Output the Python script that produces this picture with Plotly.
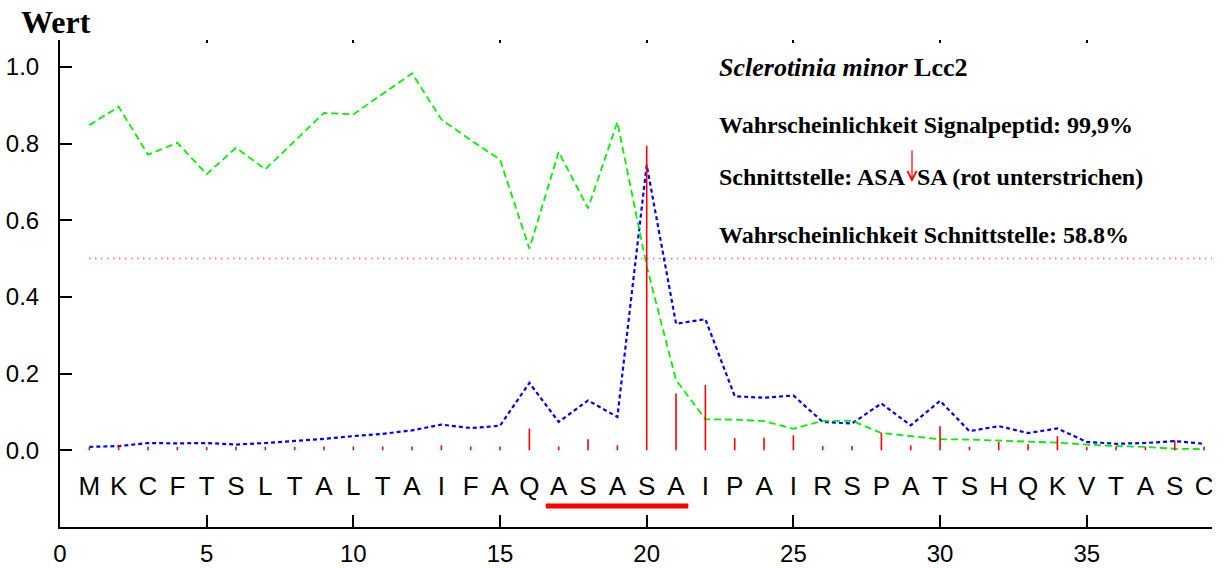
import plotly.graph_objects as go

positions = list(range(1, 40))
sequence = list("MKCFTSLTALTAIFAQASASAIPAIRSPATSHQKVTASC")

# C-score (red bars)
c_score = [0.008, 0.013, 0.009, 0.009, 0.009, 0.009, 0.009, 0.009, 0.010, 0.010,
           0.010, 0.010, 0.013, 0.010, 0.010, 0.057, 0.010, 0.029, 0.013, 0.794,
           0.148, 0.170, 0.032, 0.033, 0.039, 0.011, 0.011, 0.045, 0.013, 0.063,
           0.009, 0.022, 0.016, 0.037, 0.009, 0.009, 0.009, 0.026, 0.009]
# S-score (green dashed)
s_score = [0.848, 0.896, 0.771, 0.802, 0.720, 0.789, 0.733, 0.806, 0.880, 0.876,
           0.930, 0.983, 0.863, 0.809, 0.758, 0.526, 0.778, 0.631, 0.856, 0.480,
           0.183, 0.081, 0.080, 0.076, 0.056, 0.077, 0.077, 0.045, 0.037, 0.029,
           0.028, 0.025, 0.022, 0.020, 0.015, 0.011, 0.009, 0.004, 0.003]
# Y-score (blue dotted)
y_score = [0.009, 0.011, 0.019, 0.018, 0.019, 0.015, 0.019, 0.024, 0.030, 0.037,
           0.043, 0.052, 0.067, 0.058, 0.064, 0.176, 0.074, 0.130, 0.087, 0.744,
           0.330, 0.342, 0.141, 0.137, 0.143, 0.074, 0.070, 0.122, 0.065, 0.129,
           0.050, 0.063, 0.045, 0.057, 0.022, 0.017, 0.019, 0.024, 0.017]

threshold_x = [1, 39.3]
threshold_y = [0.5, 0.5]
underline_x = [16.56, 21.42]
underline_y = [-0.145, -0.145]
letter_y = -0.099

x_ticks = [0, 5, 10, 15, 20, 25, 30, 35]
y_ticks = [0.0, 0.2, 0.4, 0.6, 0.8, 1.0]

fig = go.Figure()

fig.add_trace(go.Scatter(x=threshold_x, y=threshold_y, mode="lines",
                         line=dict(color="#ff00ff", width=1.5, dash="1px,5px"),
                         hoverinfo="skip"))
fig.add_trace(go.Scatter(x=positions, y=y_score, mode="lines",
                         line=dict(color="#0000ff", width=2.2, dash="4px,3px")))
fig.add_trace(go.Scatter(x=positions, y=s_score, mode="lines",
                         line=dict(color="#00f000", width=1.8, dash="7px,4px")))

bx, by = [], []
for p, v in zip(positions, c_score):
    bx += [p, p, None]
    by += [0, v, None]
fig.add_trace(go.Scatter(x=bx, y=by, mode="lines",
                         line=dict(color="#ff0000", width=1.6)))

fig.add_trace(go.Scatter(x=positions, y=[letter_y] * len(positions), mode="text",
                         text=sequence,
                         textfont=dict(family="Liberation Sans", size=26, color="black")))
fig.add_trace(go.Scatter(x=underline_x, y=underline_y, mode="lines",
                         line=dict(color="#ff0000", width=5)))

# top-side tick marks
fig.add_trace(go.Scatter(x=[None], y=[None], xaxis="x2", showlegend=False))

serif = "Liberation Serif"
tx = (717 - 60) / 1152
ann = [
    dict(text="<b>Wert</b>", x=(19 - 60) / 1152, y=(527 - 22) / 487, xanchor="left",
         yanchor="middle", font=dict(family=serif, size=32, color="black")),
    dict(text="<b><i>Sclerotinia minor</i> Lcc2</b>", x=tx, y=(527 - 68) / 487,
         xanchor="left", yanchor="middle", font=dict(family=serif, size=26, color="black")),
    dict(text="<b>Wahrscheinlichkeit Signalpeptid: 99,9%</b>", x=tx, y=(527 - 125) / 487,
         xanchor="left", yanchor="middle", font=dict(family=serif, size=24, color="black")),
    dict(text="<b>Schnittstelle: ASA\u00a0\u00a0SA (rot unterstrichen)</b>", x=tx,
         y=(527 - 177) / 487, xanchor="left", yanchor="middle",
         font=dict(family=serif, size=24, color="black")),
    dict(text="<b>Wahrscheinlichkeit Schnittstelle: 58.8%</b>", x=tx, y=(527 - 235) / 487,
         xanchor="left", yanchor="middle", font=dict(family=serif, size=24, color="black")),
]
for a in ann:
    a.update(xref="paper", yref="paper", showarrow=False)
ann.append(dict(xref="paper", yref="paper", x=(912 - 60) / 1152, y=(527 - 182) / 487,
                ax=0, ay=-33, text="", showarrow=True, arrowhead=5, arrowsize=1.5,
                arrowwidth=1.2, arrowcolor="#ff0000"))

fig.update_layout(
    width=1224, height=568,
    margin=dict(l=60, r=12, t=40, b=41, autoexpand=False),
    paper_bgcolor="white", plot_bgcolor="white",
    showlegend=False,
    annotations=ann,
    xaxis=dict(range=[0, 39.27], tickvals=x_ticks, ticks="inside", ticklen=12,
               tickwidth=2, tickcolor="black", showline=True, linewidth=2,
               linecolor="black", showgrid=False, zeroline=False, automargin=False,
               ticklabelstandoff=4,
               tickfont=dict(family="Liberation Sans", size=24, color="black")),
    xaxis2=dict(range=[0, 39.27], tickvals=x_ticks, overlaying="x", side="top",
                ticks="inside", ticklen=3, tickwidth=2, tickcolor="black",
                showline=False, showgrid=False, zeroline=False, automargin=False,
                showticklabels=False),
    yaxis=dict(range=[-0.2, 1.07], tickvals=y_ticks, tickformat=".1f",
               ticks="inside", ticklen=12, tickwidth=2, tickcolor="black",
               showline=True, linewidth=2, linecolor="black", showgrid=False,
               zeroline=False, ticklabelstandoff=14, automargin=False,
               tickfont=dict(family="Liberation Sans", size=24, color="black")),
)

fig.write_html("out.html")
